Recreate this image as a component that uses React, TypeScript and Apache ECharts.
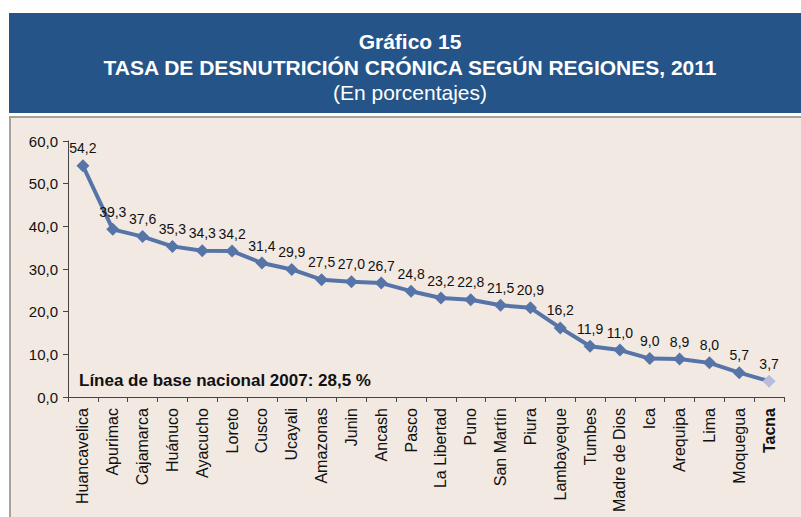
import React, { useEffect, useRef } from "react";
import * as echarts from "echarts";

const regions = [
  "Huancavelica", "Apurimac", "Cajamarca", "Huánuco", "Ayacucho", "Loreto", "Cusco", "Ucayali",
  "Amazonas", "Junin", "Ancash", "Pasco", "La Libertad", "Puno", "San Martín", "Piura",
  "Lambayeque", "Tumbes", "Madre de Dios", "Ica", "Arequipa", "Lima", "Moquegua", "Tacna",
];
const values = [
  54.2, 39.3, 37.6, 35.3, 34.3, 34.2, 31.4, 29.9, 27.5, 27.0, 26.7, 24.8, 23.2, 22.8, 21.5, 20.9,
  16.2, 11.9, 11.0, 9.0, 8.9, 8.0, 5.7, 3.7,
];
const highlighted = "Tacna";
const titleLines = ["Gráfico 15", "TASA DE DESNUTRICIÓN CRÓNICA SEGÚN REGIONES, 2011", "(En porcentajes)"];
const note = "Línea de base nacional 2007: 28,5 %";

const fmt = (v: number) => v.toFixed(1).replace(".", ",");

export default function App() {
  const ref = useRef<HTMLDivElement>(null);
  useEffect(() => {
    if (!ref.current) return;
    const chart = echarts.init(ref.current, null, { renderer: "svg" });
    const font = "'Liberation Sans', Arial, sans-serif";
    chart.setOption({
      animation: false,
      backgroundColor: "#ffffff",
      textStyle: { fontFamily: font },
      graphic: [
        { type: "rect", shape: { x: 9, y: 13, width: 792, height: 100 }, style: { fill: "#255488" }, z: 0 },
        { type: "rect", shape: { x: 10, y: 117, width: 795, height: 410 }, style: { fill: "#F1E9E2", stroke: "#A6A39F", lineWidth: 2 }, z: 0 },
        { type: "text", x: 410, y: 41, style: { text: titleLines[0], fill: "#fff", font: `bold 21px ${font}`, textAlign: "center", textVerticalAlign: "middle" }, z: 1 },
        { type: "text", x: 410, y: 67, style: { text: titleLines[1], fill: "#fff", font: `bold 21px ${font}`, textAlign: "center", textVerticalAlign: "middle" }, z: 1 },
        { type: "text", x: 410, y: 92, style: { text: titleLines[2], fill: "#fff", font: `21px ${font}`, textAlign: "center", textVerticalAlign: "middle" }, z: 1 },
        { type: "text", x: 79, y: 380, style: { text: note, fill: "#111", font: `bold 17px ${font}`, textAlign: "left", textVerticalAlign: "middle" }, z: 10 },
      ],
      grid: { left: 68, right: 17, top: 141, bottom: 120, containLabel: false },
      xAxis: {
        type: "category",
        data: regions,
        boundaryGap: true,
        axisLine: { lineStyle: { color: "#444", width: 1 } },
        axisTick: { show: true, length: 5, lineStyle: { color: "#444" }, alignWithLabel: false },
        axisLabel: {
          rotate: 90,
          interval: 0,
          fontSize: 16,
          color: "#111",
          margin: 11,
          fontFamily: font,
          formatter: (v: string) => (v === highlighted ? `{b|${v}}` : v),
          rich: { b: { fontWeight: "bold", fontSize: 16, color: "#111", fontFamily: font } },
        },
      },
      yAxis: {
        type: "value",
        min: 0,
        max: 60,
        interval: 10,
        axisLine: { show: true, lineStyle: { color: "#444", width: 1 } },
        axisTick: { show: true, length: 5, lineStyle: { color: "#444" } },
        splitLine: { show: false },
        axisLabel: { fontSize: 15, color: "#111", margin: 10, fontFamily: font, formatter: (v: number) => fmt(v) },
      },
      series: [
        {
          type: "line",
          data: values.map((v, i) =>
            regions[i] === highlighted ? { value: v, itemStyle: { color: "#B8BCDA" } } : v
          ),
          symbol: "diamond",
          symbolSize: 13,
          lineStyle: { color: "#5774A8", width: 4 },
          itemStyle: { color: "#5774A8" },
          label: {
            show: true,
            position: "top",
            distance: 4,
            fontSize: 14,
            color: "#111",
            fontFamily: font,
            formatter: (p: any) => fmt(p.value),
          },
          z: 5,
        },
      ],
    });
    return () => chart.dispose();
  }, []);
  return <div ref={ref} style={{ width: 801, height: 517, position: "absolute", left: 0, top: 0 }} />;
}
